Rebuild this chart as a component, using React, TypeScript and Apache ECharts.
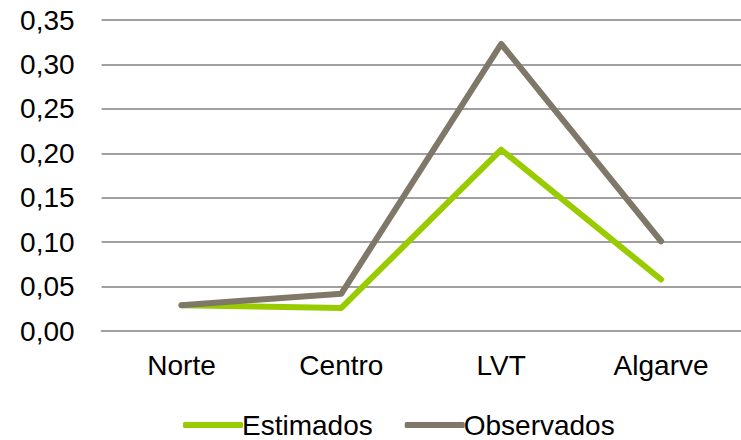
import React, { useEffect, useRef } from "react";
import * as echarts from "echarts";

const categories = ["Norte", "Centro", "LVT", "Algarve"];
const estimados = [0.029, 0.026, 0.204, 0.058];
const observados = [0.029, 0.042, 0.323, 0.101];
const seriesNames = ["Estimados", "Observados"];

const FONT = "'Liberation Sans', Arial, sans-serif";

export default function App() {
  const ref = useRef<HTMLDivElement>(null);
  useEffect(() => {
    if (!ref.current) return;
    const chart = echarts.init(ref.current, undefined, { renderer: "svg" });
    chart.setOption({
      animation: false,
      backgroundColor: "#ffffff",
      grid: { left: 101.6, right: -11.4, top: 20, bottom: 109, containLabel: false },
      legend: {
        left: 178,
        top: 406,
        itemWidth: 60,
        itemHeight: 6,
        itemGap: 32,
        icon: "roundRect",
        data: seriesNames,
        textStyle: { fontFamily: FONT, fontSize: 28, color: "#000", padding: [0, 0, 0, -6] },
      },
      xAxis: {
        type: "category",
        data: categories,
        boundaryGap: true,
        axisLine: { show: true, lineStyle: { color: "#A0A0A0", width: 2 } },
        axisTick: { show: false },
        axisLabel: { fontFamily: FONT, fontSize: 28, color: "#000", margin: 20 },
      },
      yAxis: {
        type: "value",
        min: 0,
        max: 0.35,
        interval: 0.05,
        axisLine: { show: false },
        axisTick: { show: false },
        splitLine: { lineStyle: { color: "#A0A0A0", width: 2 } },
        axisLabel: {
          fontFamily: FONT,
          fontSize: 28,
          color: "#000",
          margin: 27,
          formatter: (v: number) => v.toFixed(2).replace(".", ","),
        },
      },
      series: [
        {
          name: seriesNames[0],
          type: "line",
          data: estimados,
          symbol: "none",
          itemStyle: { color: "#99CC00" },
          lineStyle: { color: "#99CC00", width: 6, cap: "round", join: "round" },
        },
        {
          name: seriesNames[1],
          type: "line",
          data: observados,
          symbol: "none",
          itemStyle: { color: "#7F7767" },
          lineStyle: { color: "#7F7767", width: 6, cap: "round", join: "round" },
        },
      ],
    });
    return () => chart.dispose();
  }, []);
  return <div ref={ref} style={{ width: 741, height: 440, position: "fixed", left: 0, top: 0 }} />;
}
